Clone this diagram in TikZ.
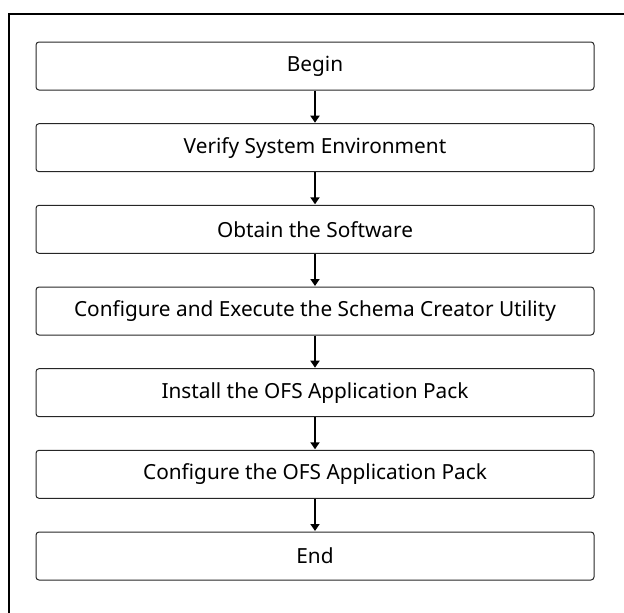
\documentclass[tikz,border=0pt]{standalone}
\usepackage{fontspec}
\setmainfont{Noto Sans}
\usetikzlibrary{arrows.meta}
\begin{document}
\begin{tikzpicture}[x=1pt,y=1pt,
  stepbox/.style={draw=black!85, line width=1pt, rounded corners=3pt, minimum width=558pt, minimum height=48pt, inner sep=0pt, font=\fontsize{20.8}{24}\selectfont},
  flow/.style={line width=2.6pt, -{Triangle[length=7pt,width=9pt]}, shorten >=0.5pt}]
\useasboundingbox (0,0) rectangle (624,-613);
\draw[line width=2.4pt] (9,-660) -- (9,-14.2) -- (680,-14.2);
\node[stepbox] (b1) at (315,-66) {Begin};
\node[stepbox] (b2) at (315,-147.7) {Verify System Environment};
\node[stepbox] (b3) at (315,-229.3) {Obtain the Software};
\node[stepbox] (b4) at (315,-311) {Configure and Execute the Schema Creator Utility};
\node[stepbox] (b5) at (315,-392.7) {Install the OFS Application Pack};
\node[stepbox] (b6) at (315,-474.3) {Configure the OFS Application Pack};
\node[stepbox] (b7) at (315,-556) {End};
\foreach \a/\b in {b1/b2,b2/b3,b3/b4,b4/b5,b5/b6,b6/b7}
  \draw[flow] (\a.south) -- (\b.north);
\end{tikzpicture}
\end{document}
